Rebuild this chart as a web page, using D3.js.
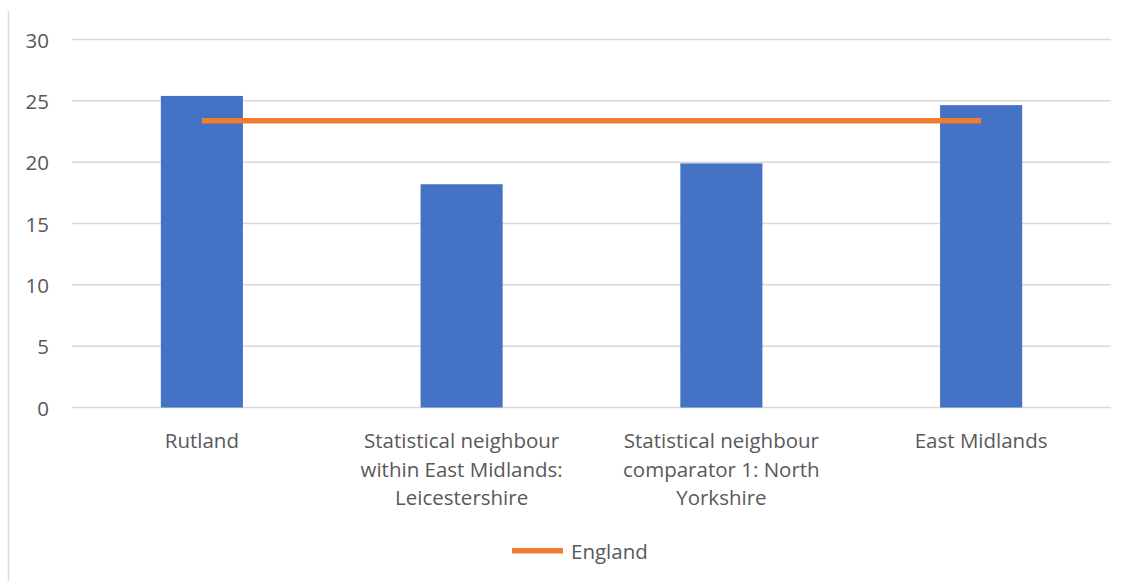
<!DOCTYPE html>
<html><head><meta charset="utf-8">
<script src="https://cdn.jsdelivr.net/npm/d3@7"></script>
<style>body{margin:0;background:#fff}svg{display:block}text{font-family:"Open Sans",sans-serif;fill:#595959}</style>
</head><body><svg id="c" width="1137" height="581"></svg>
<script>
const categories = [
  ["Rutland"],
  ["Statistical neighbour", "within East Midlands:", "Leicestershire"],
  ["Statistical neighbour", "comparator 1: North", "Yorkshire"],
  ["East Midlands"]
];
const barValues = [25.4, 18.2, 19.9, 24.65];
const englandValues = [23.37, 23.37, 23.37, 23.37];
const yTicks = [0, 5, 10, 15, 20, 25, 30];
const legendLabel = "England";

const FONT = 20.5;
const svg = d3.select("#c");
const W = 1137, H = 581;
const m = {left: 72, right: 26, top: 39.5, bottom: 173.5};
const x = d3.scaleBand().domain(d3.range(categories.length)).range([m.left, W - m.right]).paddingInner(0.684).paddingOuter(0.342);
const y = d3.scaleLinear().domain([0, 30]).range([H - m.bottom, m.top]);

svg.append("line").attr("x1", 8.5).attr("x2", 8.5).attr("y1", 11).attr("y2", H).attr("stroke", "#d9d9d9").attr("stroke-width", 1.5);

svg.append("g").selectAll("line").data(yTicks).join("line")
  .attr("x1", m.left).attr("x2", W - m.right)
  .attr("y1", d => y(d)).attr("y2", d => y(d))
  .attr("stroke", "#d9d9d9").attr("stroke-width", 1.5);

const yAxis = d3.axisLeft(y).tickValues(yTicks).tickSize(0).tickPadding(0);
const ga = svg.append("g").attr("transform", `translate(49,1)`).call(yAxis);
ga.select(".domain").remove();
ga.selectAll("text").attr("font-size", FONT).style("font-family", "'Open Sans', sans-serif").attr("fill", "#595959");

svg.append("g").selectAll("rect").data(barValues).join("rect")
  .attr("x", (d, i) => x(i)).attr("width", x.bandwidth())
  .attr("y", d => y(d)).attr("height", d => y(0) - y(d))
  .attr("fill", "#4472c4");

const cx = i => x(i) + x.bandwidth() / 2;
svg.append("path").datum(englandValues)
  .attr("d", d3.line().x((d, i) => cx(i)).y(d => y(d)))
  .attr("fill", "none").attr("stroke", "#ed7d31").attr("stroke-width", 5.5);

const lab = svg.append("g").selectAll("text").data(categories).join("text")
  .attr("text-anchor", "middle").attr("font-size", FONT)
  .attr("x", (d, i) => cx(i)).attr("y", 448);
lab.selectAll("tspan").data(d => d).join("tspan")
  .attr("x", function() { return d3.select(this.parentNode).attr("x"); })
  .attr("dy", (d, i) => i === 0 ? 0 : 28.6)
  .text(d => d);

svg.append("line").attr("x1", 512).attr("x2", 563).attr("y1", 550.7).attr("y2", 550.7)
  .attr("stroke", "#ed7d31").attr("stroke-width", 5.5);
svg.append("text").attr("x", 571).attr("y", 558.5).attr("font-size", FONT).text(legendLabel);
</script></body></html>
